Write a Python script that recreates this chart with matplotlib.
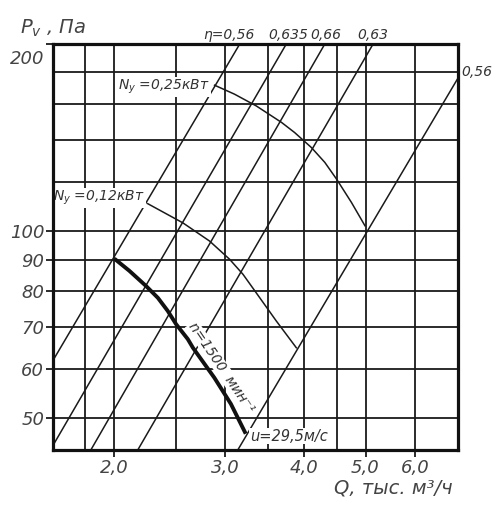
import matplotlib
matplotlib.use('Agg')
import matplotlib.pyplot as plt
from matplotlib.transforms import ScaledTranslation

plt.rcParams['font.family'] = ['DejaVu Sans']
plt.rcParams['font.style'] = 'italic'
plt.rcParams['mathtext.fontset'] = 'dejavusans'

# grid lines (log-log chart)
q_grid = [1.8, 2.0, 2.5, 3.0, 3.5, 4.0, 4.5, 5.0, 6.0]
p_grid = [50, 60, 70, 80, 90, 100, 120, 140, 160, 180]

q_ticks = [2.0, 3.0, 4.0, 5.0, 6.0]
q_tick_labels = ['2,0', '3,0', '4,0', '5,0', '6,0']
p_ticks = [50, 60, 70, 80, 90, 100, 200]
p_tick_labels = ['50', '60', '70', '80', '90', '100', '200']

# efficiency lines, end points on the frame
eta_labels = ['η=0,56', '0,635', '0,66', '0,63', '0,56']
eta_q = [[1.6, 3.16], [1.597, 3.745], [1.837, 4.31], [2.18, 5.14], [3.14, 7.0]]
eta_p = [[62, 200], [45.1, 200], [44.5, 200], [44.5, 200], [44.5, 176]]
eta_label_q = [3.04, 3.77, 4.33, 5.14]

# shaft power curves
n025_q = [2.883, 3.10, 3.357, 3.68, 3.86, 4.104, 4.31, 4.50, 4.75, 4.99]
n025_p = [171.7, 166.1, 159.0, 149.6, 144.1, 136.3, 129.0, 121.2, 111.2, 102.0]
n012_q = [2.259, 2.568, 2.83, 3.045, 3.198, 3.40, 3.61, 3.885]
n012_p = [110.7, 103.1, 96.4, 90.1, 85.2, 78.1, 71.7, 64.9]

# fan curve n=1500 min-1
fan_q = [2.0, 2.113, 2.245, 2.344, 2.43, 2.506, 2.615, 2.664, 2.88, 3.06, 3.23]
fan_p = [90.3, 86.3, 81.6, 78.1, 74.4, 70.8, 67.0, 64.9, 58.1, 52.7, 47.2]

fig = plt.figure(figsize=(4.97, 5.18), dpi=100)
ax = fig.add_axes([0.107, 0.132, 0.814, 0.783])
ax.set_xscale('log')
ax.set_yscale('log')
ax.set_xlim(1.6, 7.0)
ax.set_ylim(44.5, 200)

for q in q_grid:
    ax.axvline(q, color='#1a1a1a', lw=1.3, zorder=1)
for p in p_grid:
    ax.axhline(p, color='#1a1a1a', lw=1.3, zorder=1)

for qs, ps in zip(eta_q, eta_p):
    ax.plot(qs, ps, color='#1a1a1a', lw=1.1, zorder=2)

ax.plot(n025_q, n025_p, color='#1a1a1a', lw=1.1, zorder=2)
ax.plot(n012_q, n012_p, color='#1a1a1a', lw=1.1, zorder=2)
ax.plot(fan_q, fan_p, color='#111111', lw=2.8, zorder=5,
        solid_capstyle='butt', solid_joinstyle='round')

tc = '#333333'
box = dict(facecolor='white', edgecolor='none', pad=0.6)

# efficiency labels along the top
top = ax.get_xaxis_transform()
for q, lab in zip(eta_label_q, eta_labels[:4]):
    ax.text(q, 1.004, lab, transform=top, ha='center', va='bottom',
            fontsize=10, color=tc)
ax.text(1.008, 176, eta_labels[4], transform=ax.get_yaxis_transform(),
        ha='left', va='bottom', fontsize=10, color=tc)

ax.text(2.835, 170.4, '$N_y$ =0,25кВт', ha='right', va='center',
        fontsize=10, color=tc, bbox=box, zorder=3)
ax.text(2.235, 113, '$N_y$ =0,12кВт', ha='right', va='center',
        fontsize=10, color=tc, bbox=box, zorder=3)
ax.text(3.28, 46.8, 'u=29,5м/с', ha='left', va='center',
        fontsize=10.5, color=tc, bbox=box, zorder=3)
ax.text(2.95, 60.3, 'n=1500  мин⁻¹', ha='center', va='center',
        rotation=-55.8, rotation_mode='anchor', fontsize=10,
        color=tc, bbox=dict(facecolor='white', edgecolor='none', pad=0.2),
        zorder=3)

ax.set_xticks(q_ticks)
ax.set_xticklabels(q_tick_labels)
ax.set_yticks(p_ticks)
ax.set_yticklabels(p_tick_labels)
ax.minorticks_off()
ax.tick_params(direction='out', length=5, width=1.3, color='#1a1a1a',
               labelsize=13, labelcolor='#444444', pad=1.5)
lab200 = ax.get_yticklabels()[-1]
lab200.set_va('top')
lab200.set_transform(lab200.get_transform() +
                     ScaledTranslation(0, -4 / 72, fig.dpi_scale_trans))

for s in ax.spines.values():
    s.set_linewidth(2.3)
    s.set_color('#111111')
    s.set_zorder(6)

fig.text(20 / 497, 1 - 28 / 518, '$P_v$ , Па', ha='left', va='center',
         fontsize=14, color='#444444')
fig.text(453 / 497, 1 - 488 / 518, 'Q, тыс. м³/ч', ha='right', va='center',
         fontsize=14, color='#444444')

fig.savefig('out.png', dpi=100)
